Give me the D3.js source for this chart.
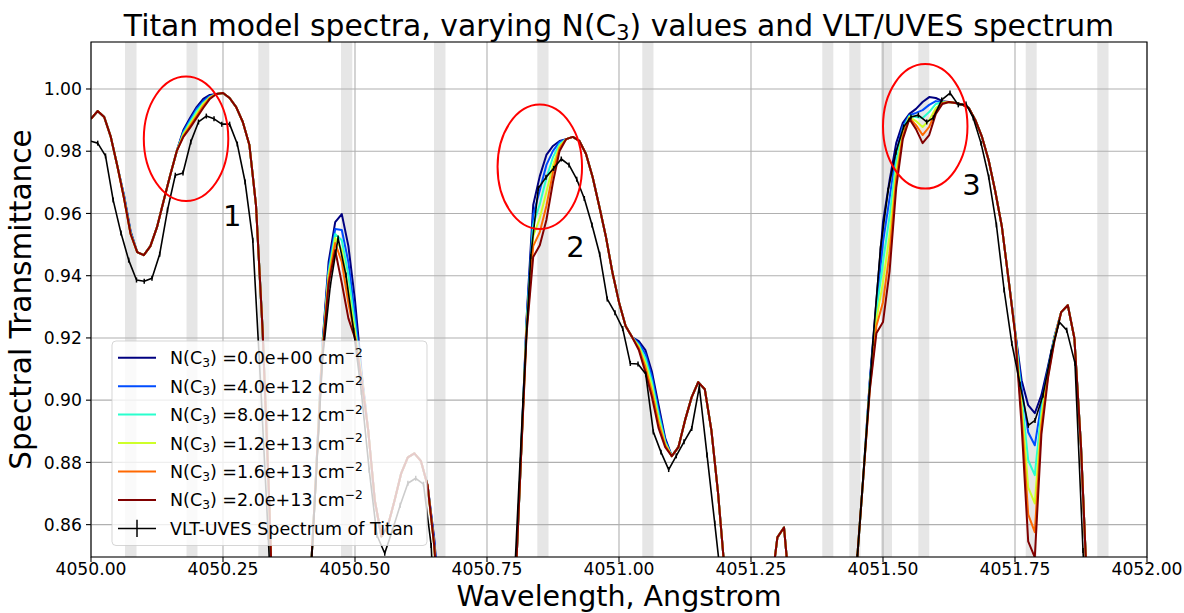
<!DOCTYPE html>
<html><head><meta charset="utf-8">
<script src="https://cdn.jsdelivr.net/npm/d3@7"></script>
<style>
html,body{margin:0;padding:0;background:#fff;}
svg{display:block;font-family:"DejaVu Sans",sans-serif;}
</style></head><body>
<svg id="chart" width="1184" height="613"></svg>
<script>
// ---------------- DATA ----------------
const modelWave = [
4050.0000,4050.0125,4050.0250,4050.0375,4050.0500,4050.0625,4050.0750,4050.0875,4050.1000,4050.1125,4050.1250,4050.1375,4050.1500,4050.1625,4050.1750,4050.1875,4050.2000,4050.2125,4050.2250,4050.2375,
4050.2500,4050.2625,4050.2750,4050.2875,4050.3000,4050.3125,4050.3250,4050.3375,4050.3500,4050.3625,4050.3750,4050.3875,4050.4000,4050.4125,4050.4250,4050.4375,4050.4500,4050.4625,4050.4750,4050.4875,
4050.5000,4050.5125,4050.5250,4050.5375,4050.5500,4050.5625,4050.5750,4050.5875,4050.6000,4050.6125,4050.6250,4050.6375,4050.6500,4050.6625,4050.6750,4050.6875,4050.7000,4050.7125,4050.7250,4050.7375,
4050.7500,4050.7625,4050.7750,4050.7875,4050.8000,4050.8125,4050.8250,4050.8375,4050.8500,4050.8625,4050.8750,4050.8875,4050.9000,4050.9125,4050.9250,4050.9375,4050.9500,4050.9625,4050.9750,4050.9875,
4051.0000,4051.0125,4051.0250,4051.0375,4051.0500,4051.0625,4051.0750,4051.0875,4051.1000,4051.1125,4051.1250,4051.1375,4051.1500,4051.1625,4051.1750,4051.1875,4051.2000,4051.2125,4051.2250,4051.2375,
4051.2500,4051.2625,4051.2750,4051.2875,4051.3000,4051.3125,4051.3250,4051.3375,4051.3500,4051.3625,4051.3750,4051.3875,4051.4000,4051.4125,4051.4250,4051.4375,4051.4500,4051.4625,4051.4750,4051.4875,
4051.5000,4051.5125,4051.5250,4051.5375,4051.5500,4051.5625,4051.5750,4051.5875,4051.6000,4051.6125,4051.6250,4051.6375,4051.6500,4051.6625,4051.6750,4051.6875,4051.7000,4051.7125,4051.7250,4051.7375,
4051.7500,4051.7625,4051.7750,4051.7875,4051.8000,4051.8125,4051.8250,4051.8375,4051.8500,4051.8625,4051.8750,4051.8875,4051.9000,4051.9125,4051.9250,4051.9375,4051.9500,4051.9625,4051.9750,4051.9875,
4052.0000];

const nC3Labels = ["0.0e+00","4.0e+12","8.0e+12","1.2e+13","1.6e+13","2.0e+13"];

// N(C3) = 0
const model_0 = [
0.9904,0.9929,0.9910,0.9846,0.9752,0.9659,0.9543,0.9476,0.9466,0.9495,
0.9556,0.9640,0.9723,0.9801,0.9868,0.9907,0.9942,0.9968,0.9981,0.9984,
0.9987,0.9971,0.9942,0.9894,0.9820,0.9627,0.9225,0.8678,0.8000,0.8000,
0.8000,0.8000,0.8000,0.8324,0.8720,0.9161,0.9444,0.9572,0.9598,0.9495,
0.9321,0.9090,0.8903,0.8678,0.8562,0.8598,0.8678,0.8765,0.8816,0.8829,
0.8804,0.8726,0.8556,0.8292,0.8000,0.8000,0.8000,0.8000,0.8000,0.8000,
0.8000,0.8000,0.8000,0.8000,0.8260,0.8742,0.9263,0.9627,0.9720,0.9788,
0.9817,0.9833,0.9839,0.9846,0.9833,0.9791,0.9717,0.9624,0.9527,0.9411,
0.9315,0.9238,0.9202,0.9190,0.9161,0.9090,0.8984,0.8878,0.8820,0.8849,
0.8935,0.9009,0.9058,0.9035,0.8903,0.8704,0.8453,0.8000,0.8000,0.8000,
0.8000,0.8000,0.8000,0.8389,0.8559,0.8591,0.8357,0.8000,0.8000,0.8000,
0.8000,0.8000,0.8000,0.8000,0.8000,0.8164,0.8466,0.8749,0.9064,0.9321,
0.9572,0.9707,0.9826,0.9891,0.9920,0.9936,0.9958,0.9974,0.9971,0.9961,
0.9958,0.9955,0.9950,0.9939,0.9900,0.9846,0.9772,0.9672,0.9559,0.9392,
0.9225,0.9064,0.8984,0.8958,0.9016,0.9109,0.9206,0.9283,0.9305,0.9199,
0.8852,0.8357,0.8000,0.8000,0.8000,0.8000,0.8000,0.8000,0.8000,0.8000,
0.8000];

// N(C3) = 4.0e12
const model_1 = [
0.9904,0.9929,0.9910,0.9846,0.9752,0.9656,0.9540,0.9476,0.9466,0.9495,
0.9556,0.9640,0.9723,0.9801,0.9863,0.9900,0.9936,0.9961,0.9977,0.9984,
0.9987,0.9971,0.9942,0.9894,0.9820,0.9627,0.9225,0.8678,0.8000,0.8000,
0.8000,0.8000,0.8000,0.8324,0.8720,0.9154,0.9424,0.9550,0.9547,0.9444,
0.9273,0.9080,0.8903,0.8678,0.8562,0.8598,0.8678,0.8765,0.8816,0.8829,
0.8804,0.8726,0.8549,0.8276,0.8000,0.8000,0.8000,0.8000,0.8000,0.8000,
0.8000,0.8000,0.8000,0.8000,0.8260,0.8742,0.9254,0.9595,0.9675,0.9756,
0.9801,0.9830,0.9839,0.9846,0.9833,0.9791,0.9717,0.9624,0.9527,0.9411,
0.9315,0.9238,0.9202,0.9183,0.9148,0.9074,0.8968,0.8871,0.8820,0.8849,
0.8935,0.9009,0.9058,0.9035,0.8903,0.8704,0.8453,0.8000,0.8000,0.8000,
0.8000,0.8000,0.8000,0.8389,0.8559,0.8591,0.8357,0.8000,0.8000,0.8000,
0.8000,0.8000,0.8000,0.8000,0.8000,0.8164,0.8466,0.8749,0.9058,0.9299,
0.9508,0.9649,0.9797,0.9881,0.9916,0.9923,0.9932,0.9949,0.9961,0.9958,
0.9958,0.9955,0.9950,0.9939,0.9900,0.9846,0.9772,0.9672,0.9559,0.9392,
0.9225,0.9038,0.8897,0.8855,0.8990,0.9103,0.9202,0.9283,0.9305,0.9199,
0.8852,0.8357,0.8000,0.8000,0.8000,0.8000,0.8000,0.8000,0.8000,0.8000,
0.8000];

// N(C3) = 8.0e12
const model_2 = [
0.9904,0.9929,0.9910,0.9846,0.9752,0.9653,0.9537,0.9476,0.9466,0.9495,
0.9556,0.9640,0.9723,0.9801,0.9858,0.9894,0.9929,0.9955,0.9974,0.9984,
0.9987,0.9971,0.9942,0.9894,0.9820,0.9627,0.9225,0.8678,0.8000,0.8000,
0.8000,0.8000,0.8000,0.8324,0.8720,0.9148,0.9411,0.9534,0.9514,0.9402,
0.9241,0.9074,0.8903,0.8678,0.8562,0.8598,0.8678,0.8765,0.8816,0.8829,
0.8804,0.8726,0.8533,0.8228,0.8000,0.8000,0.8000,0.8000,0.8000,0.8000,
0.8000,0.8000,0.8000,0.8000,0.8260,0.8742,0.9244,0.9563,0.9630,0.9714,
0.9781,0.9823,0.9839,0.9846,0.9833,0.9791,0.9717,0.9624,0.9527,0.9411,
0.9315,0.9238,0.9202,0.9177,0.9135,0.9058,0.8955,0.8865,0.8820,0.8849,
0.8935,0.9009,0.9058,0.9035,0.8903,0.8704,0.8453,0.8000,0.8000,0.8000,
0.8000,0.8000,0.8000,0.8389,0.8559,0.8591,0.8357,0.8000,0.8000,0.8000,
0.8000,0.8000,0.8000,0.8000,0.8000,0.8164,0.8466,0.8749,0.9051,0.9280,
0.9444,0.9592,0.9768,0.9871,0.9913,0.9910,0.9907,0.9926,0.9952,0.9958,
0.9958,0.9955,0.9950,0.9939,0.9900,0.9846,0.9772,0.9672,0.9559,0.9392,
0.9222,0.9009,0.8807,0.8759,0.8968,0.9093,0.9202,0.9283,0.9305,0.9199,
0.8852,0.8357,0.8000,0.8000,0.8000,0.8000,0.8000,0.8000,0.8000,0.8000,
0.8000];

// N(C3) = 1.2e13
const model_3 = [
0.9904,0.9929,0.9910,0.9846,0.9752,0.9649,0.9534,0.9476,0.9466,0.9495,
0.9556,0.9640,0.9723,0.9801,0.9854,0.9887,0.9920,0.9952,0.9973,0.9984,
0.9987,0.9971,0.9942,0.9894,0.9820,0.9627,0.9225,0.8678,0.8000,0.8000,
0.8000,0.8000,0.8000,0.8324,0.8720,0.9141,0.9399,0.9521,0.9482,0.9354,
0.9218,0.9071,0.8903,0.8678,0.8562,0.8598,0.8678,0.8765,0.8816,0.8829,
0.8804,0.8726,0.8533,0.8228,0.8000,0.8000,0.8000,0.8000,0.8000,0.8000,
0.8000,0.8000,0.8000,0.8000,0.8260,0.8742,0.9235,0.9527,0.9585,0.9669,
0.9756,0.9817,0.9839,0.9846,0.9833,0.9791,0.9717,0.9624,0.9527,0.9411,
0.9315,0.9238,0.9202,0.9173,0.9119,0.9042,0.8939,0.8861,0.8820,0.8849,
0.8935,0.9009,0.9058,0.9035,0.8903,0.8704,0.8453,0.8000,0.8000,0.8000,
0.8000,0.8000,0.8000,0.8389,0.8559,0.8591,0.8357,0.8000,0.8000,0.8000,
0.8000,0.8000,0.8000,0.8000,0.8000,0.8164,0.8466,0.8749,0.9045,0.9257,
0.9379,0.9530,0.9739,0.9858,0.9910,0.9897,0.9878,0.9900,0.9939,0.9955,
0.9958,0.9955,0.9950,0.9939,0.9900,0.9846,0.9772,0.9672,0.9559,0.9392,
0.9222,0.8984,0.8720,0.8668,0.8945,0.9087,0.9199,0.9283,0.9305,0.9199,
0.8852,0.8357,0.8000,0.8000,0.8000,0.8000,0.8000,0.8000,0.8000,0.8000,
0.8000];

// N(C3) = 1.6e13
const model_4 = [
0.9904,0.9929,0.9910,0.9846,0.9752,0.9649,0.9534,0.9476,0.9466,0.9495,
0.9556,0.9640,0.9723,0.9801,0.9849,0.9881,0.9913,0.9945,0.9971,0.9984,
0.9987,0.9971,0.9942,0.9894,0.9820,0.9627,0.9225,0.8678,0.8000,0.8000,
0.8000,0.8000,0.8000,0.8324,0.8720,0.9135,0.9386,0.9505,0.9444,0.9312,
0.9206,0.9068,0.8903,0.8678,0.8562,0.8598,0.8678,0.8765,0.8816,0.8829,
0.8804,0.8726,0.8533,0.8228,0.8000,0.8000,0.8000,0.8000,0.8000,0.8000,
0.8000,0.8000,0.8000,0.8000,0.8260,0.8742,0.9225,0.9495,0.9540,0.9624,
0.9733,0.9810,0.9839,0.9846,0.9833,0.9791,0.9717,0.9624,0.9527,0.9411,
0.9315,0.9238,0.9202,0.9167,0.9106,0.9025,0.8926,0.8855,0.8820,0.8849,
0.8935,0.9009,0.9058,0.9035,0.8903,0.8704,0.8453,0.8000,0.8000,0.8000,
0.8000,0.8000,0.8000,0.8389,0.8559,0.8591,0.8357,0.8000,0.8000,0.8000,
0.8000,0.8000,0.8000,0.8000,0.8000,0.8164,0.8466,0.8749,0.9038,0.9238,
0.9315,0.9473,0.9711,0.9849,0.9907,0.9884,0.9852,0.9878,0.9929,0.9955,
0.9958,0.9955,0.9950,0.9939,0.9900,0.9846,0.9772,0.9672,0.9559,0.9392,
0.9218,0.8952,0.8633,0.8576,0.8919,0.9077,0.9196,0.9283,0.9305,0.9199,
0.8852,0.8357,0.8000,0.8000,0.8000,0.8000,0.8000,0.8000,0.8000,0.8000,
0.8000];

// N(C3) = 2.0e13
const model_5 = [
0.9904,0.9929,0.9910,0.9846,0.9752,0.9649,0.9534,0.9476,0.9466,0.9495,
0.9556,0.9640,0.9723,0.9801,0.9846,0.9875,0.9907,0.9939,0.9968,0.9984,
0.9987,0.9971,0.9942,0.9894,0.9820,0.9627,0.9225,0.8678,0.8000,0.8000,
0.8000,0.8000,0.8000,0.8324,0.8720,0.9128,0.9373,0.9482,0.9376,0.9263,
0.9199,0.9064,0.8903,0.8678,0.8562,0.8598,0.8678,0.8765,0.8816,0.8829,
0.8804,0.8726,0.8533,0.8228,0.8000,0.8000,0.8000,0.8000,0.8000,0.8000,
0.8000,0.8000,0.8000,0.8000,0.8260,0.8742,0.9215,0.9460,0.9498,0.9579,
0.9701,0.9801,0.9839,0.9846,0.9833,0.9791,0.9717,0.9624,0.9527,0.9411,
0.9315,0.9238,0.9202,0.9161,0.9090,0.9009,0.8910,0.8849,0.8820,0.8849,
0.8935,0.9009,0.9058,0.9035,0.8903,0.8704,0.8453,0.8000,0.8000,0.8000,
0.8000,0.8000,0.8000,0.8389,0.8559,0.8591,0.8357,0.8000,0.8000,0.8000,
0.8000,0.8000,0.8000,0.8000,0.8000,0.8164,0.8466,0.8749,0.9032,0.9215,
0.9251,0.9415,0.9682,0.9839,0.9904,0.9871,0.9826,0.9852,0.9920,0.9952,
0.9958,0.9955,0.9950,0.9939,0.9900,0.9846,0.9772,0.9672,0.9559,0.9392,
0.9218,0.8919,0.8546,0.8495,0.8890,0.9071,0.9193,0.9283,0.9305,0.9199,
0.8852,0.8357,0.8000,0.8000,0.8000,0.8000,0.8000,0.8000,0.8000,0.8000,
0.8000];

// VLT-UVES observed spectrum
const obsWave = [
4049.9980,4050.0127,4050.0275,4050.0420,4050.0568,4050.0714,4050.0862,4050.1008,4050.1155,4050.1301,
4050.1449,4050.1597,4050.1742,4050.1890,4050.2036,4050.2184,4050.2330,4050.2477,4050.2625,4050.2771,
4050.2919,4050.3064,4050.3212,4050.3358,4050.3506,4050.3800,4050.4093,4050.4241,4050.4386,4050.4534,
4050.4680,4050.4828,4050.4973,4050.5121,4050.5269,4050.5415,4050.5563,4050.5708,4050.5856,4050.6002,
4050.6150,4050.6297,4050.6443,4050.6591,4050.7200,4050.7890,4050.8036,4050.8182,4050.8328,4050.8472,
4050.8617,4050.8763,4050.8907,4050.9053,4050.9199,4050.9343,4050.9489,4050.9634,4050.9778,4050.9924,
4051.0070,4051.0214,4051.0360,4051.0506,4051.0650,4051.0795,4051.0941,4051.1085,4051.1231,4051.1377,
4051.1521,4051.1667,4051.1813,4051.1956,4051.2102,4051.3200,4051.4223,4051.4369,4051.4515,4051.4661,
4051.4807,4051.4953,4051.5098,4051.5244,4051.5390,4051.5530,4051.5669,4051.5828,4051.5953,4051.6112,
4051.6269,4051.6426,4051.6572,4051.6710,4051.6856,4051.7002,4051.7148,4051.7294,4051.7439,4051.7595,
4051.7752,4051.7879,4051.8030,4051.8186,4051.8339,4051.8479,4051.8636,4051.8788,4051.8939,4051.9500,
4052.0100];
const obsFlux = [
0.9833,0.9826,0.9785,0.9643,0.9537,0.9450,0.9386,0.9382,0.9392,0.9469,
0.9611,0.9723,0.9730,0.9830,0.9894,0.9913,0.9904,0.9887,0.9887,0.9823,
0.9701,0.9514,0.9054,0.8559,0.8000,0.8000,0.8225,0.8681,0.9135,0.9370,
0.9521,0.9402,0.9225,0.9025,0.8775,0.8566,0.8508,0.8582,0.8662,0.8733,
0.8749,0.8730,0.8533,0.8000,0.8000,0.8000,0.8485,0.9000,0.9461,0.9681,
0.9716,0.9745,0.9775,0.9756,0.9710,0.9648,0.9563,0.9469,0.9325,0.9281,
0.9230,0.9118,0.9116,0.9084,0.8898,0.8833,0.8777,0.8821,0.8866,0.8909,
0.9043,0.8824,0.8605,0.8386,0.8000,0.8000,0.8000,0.8131,0.8498,0.8839,
0.9183,0.9489,0.9675,0.9797,0.9878,0.9910,0.9916,0.9894,0.9907,0.9965,
0.9987,0.9949,0.9952,0.9907,0.9826,0.9717,0.9563,0.9354,0.9183,0.9051,
0.8919,0.8935,0.9016,0.9154,0.9251,0.9225,0.9119,0.8517,0.8000,0.8000,
0.8000];
const obsErr = 0.0008;

// shaded wavelength intervals
const bandStart = [4050.0644,4050.1809,4050.3169,4050.4735,4050.6496,4050.8453,4051.0441,4051.3850,4051.4362,4051.4962,4051.5669,4051.7703,4051.9059];
const bandEnd   = [4050.0862,4050.2017,4050.3377,4050.4949,4050.6714,4050.8665,4051.0653,4051.4059,4051.4574,4051.5170,4051.5877,4051.7911,4051.9271];

// annotations
const ellipseCx = [4050.18, 4050.85, 4051.58];
const ellipseCy = [0.984, 0.975, 0.988];
const ellipseWidth = 0.16, ellipseHeight = 0.04;
const markText = ["1","2","3"];
const markX = [4050.25, 4050.90, 4051.65];
const markY = [0.956, 0.946, 0.966];

const xTicks = [4050.00,4050.25,4050.50,4050.75,4051.00,4051.25,4051.50,4051.75,4052.00];
const yTicks = [0.86,0.88,0.90,0.92,0.94,0.96,0.98,1.00];

// ---------------- STYLE / LAYOUT ----------------
const colors = ["#000080","#004cff","#29ffce","#ceff29","#ff6800","#800000"];
const L = 91, R = 1147, T = 42, B = 557;
const svg = d3.select("#chart");
const x = d3.scaleLinear().domain([4050, 4052]).range([L, R]);
const y = d3.scaleLinear().domain([0.8496, 1.0151]).range([B, T]);
const FF = "DejaVu Sans";

svg.append("rect").attr("width",1184).attr("height",613).attr("fill","#fff");
svg.append("defs").append("clipPath").attr("id","pc")
  .append("rect").attr("x",L).attr("y",T).attr("width",R-L).attr("height",B-T);

// bands
svg.append("g").selectAll("rect").data(bandStart).join("rect")
  .attr("x",(d)=>x(d)).attr("width",(d,i)=>x(bandEnd[i])-x(d))
  .attr("y",T).attr("height",B-T).attr("fill","#808080").attr("fill-opacity",0.2);

// grid
const grid = svg.append("g").attr("stroke","#b0b0b0").attr("stroke-width",1.1);
grid.selectAll(".gx").data(xTicks).join("line")
  .attr("x1",d=>x(d)).attr("x2",d=>x(d)).attr("y1",T).attr("y2",B);
grid.selectAll(".gy").data(yTicks).join("line")
  .attr("y1",d=>y(d)).attr("y2",d=>y(d)).attr("x1",L).attr("x2",R);

// lines
const plot = svg.append("g").attr("clip-path","url(#pc)");
const line = d3.line().x(d=>x(d[0])).y(d=>y(d[1]));
const models = [model_0, model_1, model_2, model_3, model_4, model_5];
models.forEach((m,k)=>{
  plot.append("path").attr("d", line(modelWave.map((w,i)=>[w,m[i]])))
    .attr("fill","none").attr("stroke",colors[k]).attr("stroke-width",2)
    .attr("stroke-linejoin","round");
});
plot.append("path").attr("d", line(obsWave.map((w,i)=>[w,obsFlux[i]])))
  .attr("fill","none").attr("stroke","#000").attr("stroke-width",1.6).attr("stroke-linejoin","round");
plot.append("g").selectAll("line").data(obsWave).join("line")
  .attr("x1",d=>x(d)).attr("x2",d=>x(d))
  .attr("y1",(d,i)=>y(obsFlux[i]-obsErr)).attr("y2",(d,i)=>y(obsFlux[i]+obsErr))
  .attr("stroke","#000").attr("stroke-width",1.5);

// ellipses + numbers
ellipseCx.forEach((cx,i)=>{
  svg.append("ellipse").attr("cx",x(cx)).attr("cy",y(ellipseCy[i]))
    .attr("rx",x(cx+ellipseWidth/2)-x(cx)).attr("ry",y(ellipseCy[i])-y(ellipseCy[i]+ellipseHeight/2))
    .attr("fill","none").attr("stroke","#ff0000").attr("stroke-width",2);
  svg.append("text").attr("x",x(markX[i])).attr("y",y(markY[i]))
    .attr("font-family",FF).attr("font-size",29).attr("fill","#000").text(markText[i]);
});

// spines
svg.append("rect").attr("x",L).attr("y",T).attr("width",R-L).attr("height",B-T)
  .attr("fill","none").attr("stroke","#000").attr("stroke-width",1.1);

// ticks
const tk = svg.append("g").attr("font-family",FF).attr("font-size",17.2).attr("fill","#000");
xTicks.forEach(t=>{
  tk.append("line").attr("x1",x(t)).attr("x2",x(t)).attr("y1",B).attr("y2",B+5).attr("stroke","#000").attr("stroke-width",1.1);
  tk.append("text").attr("x",x(t)).attr("y",575.3).attr("text-anchor","middle").text(d3.format(".2f")(t));
});
yTicks.forEach(t=>{
  tk.append("line").attr("x1",L-5).attr("x2",L).attr("y1",y(t)).attr("y2",y(t)).attr("stroke","#000").attr("stroke-width",1.1);
  tk.append("text").attr("x",82).attr("y",y(t)+6.2).attr("text-anchor","end").text(d3.format(".2f")(t));
});

function rich(sel, parts, fs){
  let shift = 0;
  parts.forEach(p=>{
    const ts = sel.append("tspan").text(p.t);
    let target = 0;
    if (p.sub){ target = 0.15*fs; ts.attr("font-size", fs*0.7); }
    else if (p.sup){ target = -0.42*fs; ts.attr("font-size", fs*0.7); }
    if (target-shift !== 0) ts.attr("dy", target-shift);
    shift = target;
  });
}

// title
const TFS = 29.8;
const title = svg.append("text").attr("x",(L+R)/2).attr("y",36).attr("text-anchor","middle")
  .attr("font-family",FF).attr("font-size",TFS).attr("fill","#000");
rich(title,[{t:"Titan model spectra, varying N(C"},{t:"3",sub:true},{t:") values and VLT/UVES spectrum"}],TFS);

// axis labels
svg.append("text").attr("x",(L+R)/2).attr("y",606.3).attr("text-anchor","middle")
  .attr("font-family",FF).attr("font-size",28.5).attr("fill","#000").text("Wavelength, Angstrom");
svg.append("text").attr("transform",`translate(31,${(T+B)/2}) rotate(-90)`).attr("text-anchor","middle")
  .attr("font-family",FF).attr("font-size",29.5).attr("fill","#000").text("Spectral Transmittance");

// legend
const lg = svg.append("g").attr("font-family",FF).attr("font-size",17.5);
lg.append("rect").attr("x",112).attr("y",341).attr("width",315).attr("height",204.5).attr("rx",4)
  .attr("fill","#fff").attr("fill-opacity",0.8).attr("stroke","#cccccc").attr("stroke-opacity",0.8);
const rowY = k => 357.7 + 28.45*k;
nC3Labels.forEach((lab,k)=>{
  lg.append("line").attr("x1",118).attr("x2",156).attr("y1",rowY(k)).attr("y2",rowY(k))
    .attr("stroke",colors[k]).attr("stroke-width",2);
  const t = lg.append("text").attr("x",170).attr("y",rowY(k)+6.5).attr("fill","#000");
  rich(t,[{t:"N(C"},{t:"3",sub:true},{t:") ="+lab+" cm"},{t:"\u22122",sup:true}],17.5);
});
const ky = rowY(6);
lg.append("line").attr("x1",118).attr("x2",156).attr("y1",ky).attr("y2",ky).attr("stroke","#000").attr("stroke-width",1.5);
lg.append("line").attr("x1",137).attr("x2",137).attr("y1",ky-8.7).attr("y2",ky+8.7).attr("stroke","#000").attr("stroke-width",1.5);
lg.append("text").attr("x",170).attr("y",ky+6.5).attr("fill","#000").text("VLT-UVES Spectrum of Titan");
</script>
</body></html>
